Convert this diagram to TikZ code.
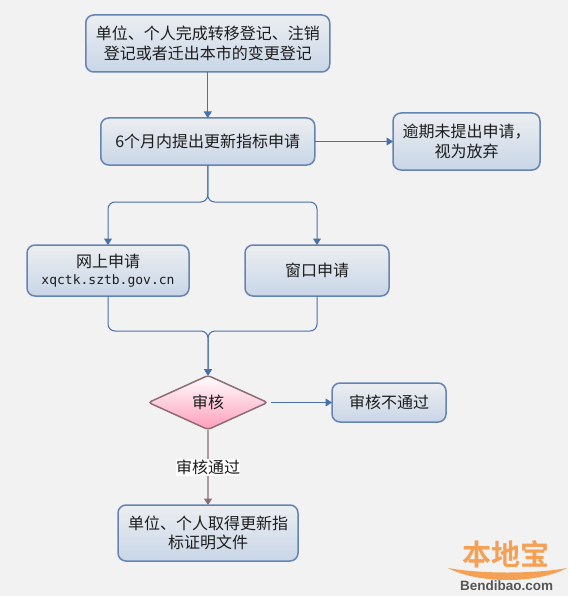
\documentclass[tikz,border=0pt]{standalone}
\usepackage{fontspec}
\usetikzlibrary{arrows.meta,shapes.geometric,shadings}
\newfontfamily\cjk{Noto Sans CJK SC}
\newfontfamily\cjkbold{Noto Sans CJK SC Bold}
\newfontfamily\urlmono{DejaVu Sans Mono}
\newfontfamily\logolatin{Liberation Sans}
\definecolor{pagebg}{HTML}{F2F2F2}
\definecolor{boxedge}{HTML}{6484B4}
\definecolor{boxtop}{HTML}{ECEEF1}
\definecolor{boxbot}{HTML}{C9D6E7}
\definecolor{connblue}{HTML}{4A70AC}
\definecolor{connrose}{HTML}{AE9AA0}
\definecolor{rosehead}{HTML}{8A6C78}
\definecolor{dmdedge}{HTML}{8E6C76}
\definecolor{dmdbot}{HTML}{FF9DBA}
\definecolor{inktext}{HTML}{1C1C1C}
\definecolor{logoorange}{HTML}{F4A055}
\definecolor{logogray}{HTML}{555555}
\tikzset{
  x=1pt,y=-1pt,
  every node/.style={inner sep=0pt,outer sep=0pt},
  flowbox/.style={rectangle,rounded corners=8pt,draw=boxedge,line width=1.5pt,
    top color=boxtop,bottom color=boxbot,shading angle=0,text=inktext,align=center,
    font=\cjk\fontsize{16}{19.5}\selectfont},
  dmd/.style={diamond,rounded corners=3pt,draw=dmdedge,line width=1.5pt,aspect=2.2,
    minimum width=119pt,minimum height=54pt,top color=white,bottom color=dmdbot,text=inktext,
    font=\cjk\fontsize{16}{19.5}\selectfont},
  conn/.style={draw=connblue,line width=1pt,-{Triangle[width=8pt,length=6.5pt]}},
  elbow/.style={conn,rounded corners=7pt},
  roseconn/.style={draw=connrose,line width=1.6pt,-{Triangle[width=8pt,length=6.5pt,color=rosehead]}},
  edgelabel/.style={fill=white,text=inktext,font=\cjk\fontsize{16}{19.5}\selectfont,inner xsep=0pt,inner ysep=1pt}
}
\begin{document}
\begin{tikzpicture}
\useasboundingbox (0,0) rectangle (568,596);
\fill[pagebg] (0,0) rectangle (568,596);

\node[flowbox,minimum width=244pt,minimum height=57pt] (start) at (207.75,43.5) {单位、个人完成转移登记、注销\\登记或者迁出本市的变更登记};
\node[flowbox,minimum width=214pt,minimum height=47pt] (apply) at (207.75,141.5) {6个月内提出更新指标申请};
\node[flowbox,minimum width=147pt,minimum height=57pt] (giveup) at (466.5,141.5) {逾期未提出申请，\\视为放弃};
\node[flowbox,minimum width=162pt,minimum height=51pt] (online) at (108,270.5) {网上申请\\[-3pt]{\urlmono\fontsize{13}{15}\selectfont xqctk.sztb.gov.cn}};
\node[flowbox,minimum width=144pt,minimum height=51pt] (window) at (317,270.5) {窗口申请};
\node[dmd] (review) at (208,402.5) {审核};
\node[flowbox,minimum width=114pt,minimum height=39pt] (fail) at (389,402.5) {审核不通过};
\node[flowbox,minimum width=180pt,minimum height=56pt] (done) at (208,533) {单位、个人取得更新指\\标证明文件};

\coordinate (split) at (208,202);
\coordinate (merge) at (208,331);

\draw[conn] (start) -- (apply);
\draw[conn] (apply) -- (giveup);
\draw[elbow] (apply.south) |- (online.north |- split) -- (online.north);
\draw[elbow] (apply.south) |- (window.north |- split) -- (window.north);
\draw[elbow] (online.south) |- (review.north |- merge) -- (review.north);
\draw[elbow] (window.south) |- (review.north |- merge) -- (review.north);
\draw[conn,shorten <=3pt] (review) -- (fail);
\draw[roseconn] (review) -- (done) node[pos=.5,edgelabel] (passed) {审核通过};

% watermark logo
\fill[logoorange] (448,568) .. controls (480,574) and (535,574) .. (567,568)
  .. controls (537,584) and (478,584) .. cycle;
\node[text=logoorange,font=\cjkbold\fontsize{29}{30}\selectfont] (logotext) at (505.5,554.5) {本地宝};
\node[text=logogray,font=\logolatin\bfseries\fontsize{13.5}{14}\selectfont] (logourl) at (506.5,586) {Bendibao.com};
\end{tikzpicture}
\end{document}
